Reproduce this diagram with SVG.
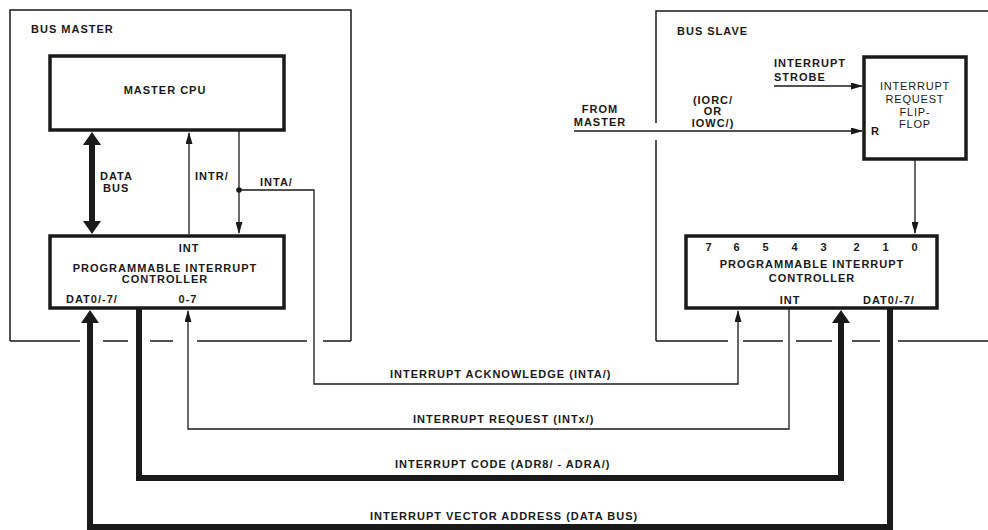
<svg xmlns="http://www.w3.org/2000/svg" width="988" height="530" viewBox="0 0 988 530">
<style>
text{font-family:"Liberation Sans",Arial,sans-serif;font-size:11px;font-weight:bold;letter-spacing:1px;fill:#1a1a1a}
.m{text-anchor:middle}
.lt{font-weight:normal;letter-spacing:0.8px}
.box{fill:none;stroke:#1a1a1a;stroke-width:3.5}
.frame{fill:none;stroke:#1a1a1a;stroke-width:1.5}
.thin{fill:none;stroke:#1a1a1a;stroke-width:1.3}
.thick{fill:none;stroke:#1a1a1a;stroke-width:6}
</style>
<defs>
<marker id="a" markerUnits="userSpaceOnUse" markerWidth="12" markerHeight="7" refX="11" refY="3.5" orient="auto"><path d="M0,0 L12,3.5 L0,7 z" fill="#1a1a1a"/></marker>
<marker id="b" markerUnits="userSpaceOnUse" markerWidth="13" markerHeight="18" refX="0" refY="9" orient="auto-start-reverse"><path d="M0,0 L13,9 L0,18 z" fill="#1a1a1a"/></marker>
</defs>
<rect width="988" height="530" fill="#fff"/>
<g id="bus-master">
<path class="frame" d="M10,341 V10 H351 V341"/>
<path class="frame" d="M10,341 H80 M103,341 H128 M150,341 H173 M197,341 H307 M323,341 H351"/>
<text x="31" y="33">BUS MASTER</text>
</g>
<g id="bus-slave">
<path class="frame" d="M656,123 V11 H988 M656,140 V341"/>
<path class="frame" d="M656,341 H728 M743,341 H783 M796,341 H832 M852,341 H880 M898,341 H988"/>
<text x="677" y="35">BUS SLAVE</text>
</g>
<g id="master-cpu">
<rect class="box" x="50" y="56" width="234" height="74"/>
<text class="m" x="165" y="94">MASTER CPU</text>
</g>
<g id="master-pic">
<rect class="box" x="50" y="236" width="234" height="72"/>
<text class="m" x="189" y="252">INT</text>
<text class="m" x="165" y="272">PROGRAMMABLE INTERRUPT</text>
<text class="m" x="165" y="283">CONTROLLER</text>
<text x="66" y="303">DAT0/-7/</text>
<text class="m" x="188" y="303">0-7</text>
</g>
<g id="flip-flop">
<rect class="box" x="864" y="57" width="102" height="102"/>
<text class="m lt" x="915" y="90">INTERRUPT</text>
<text class="m lt" x="915" y="103">REQUEST</text>
<text class="m lt" x="915" y="116">FLIP-</text>
<text class="m lt" x="915" y="128">FLOP</text>
<text x="871" y="135">R</text>
</g>
<g id="slave-pic">
<rect class="box" x="686" y="236" width="251" height="72"/>
<text class="m" x="709" y="251">7</text>
<text class="m" x="737" y="251">6</text>
<text class="m" x="766" y="251">5</text>
<text class="m" x="795" y="251">4</text>
<text class="m" x="824" y="251">3</text>
<text class="m" x="857" y="251">2</text>
<text class="m" x="886" y="251">1</text>
<text class="m" x="915" y="251">0</text>
<text class="m" x="812" y="268">PROGRAMMABLE INTERRUPT</text>
<text class="m" x="812" y="282">CONTROLLER</text>
<text class="m" x="790" y="304">INT</text>
<text x="863" y="304">DAT0/-7/</text>
</g>
<g id="connectors">
<path class="thick" d="M92,145 V221" marker-start="url(#b)" marker-end="url(#b)"/>
<path class="thin" d="M189,234 V133" marker-end="url(#a)"/>
<path class="thin" d="M239,130 V233" marker-end="url(#a)"/>
<circle cx="239" cy="190" r="2.8" fill="#1a1a1a"/>
<path class="thin" d="M239,190 H314 V384 H738 V311" marker-end="url(#a)"/>
<path class="thin" d="M789,308 V429 H188 V311" marker-end="url(#a)"/>
<path class="thick" d="M139,308 V478 H841 V323" marker-end="url(#b)"/>
<path class="thick" d="M890,308 V527 H90 V323" marker-end="url(#b)"/>
<path class="thin" d="M915,159 V233" marker-end="url(#a)"/>
<path class="thin" d="M774,86 H862" marker-end="url(#a)"/>
<path class="thin" d="M574,131 H862" marker-end="url(#a)"/>
</g>
<g id="labels">
<text x="100" y="180">DATA</text>
<text x="103" y="192">BUS</text>
<text x="195" y="180">INTR/</text>
<text x="260" y="186">INTA/</text>
<text x="774" y="67">INTERRUPT</text>
<text x="774" y="81">STROBE</text>
<text class="m" x="600" y="113">FROM</text>
<text class="m" x="600" y="126">MASTER</text>
<text class="m" x="713" y="104">(IORC/</text>
<text class="m" x="713" y="115">OR</text>
<text class="m" x="713" y="127">IOWC/)</text>
<text x="390" y="378">INTERRUPT ACKNOWLEDGE (INTA/)</text>
<text x="413" y="423">INTERRUPT REQUEST (INTx/)</text>
<text x="395" y="468">INTERRUPT CODE (ADR8/ - ADRA/)</text>
<text x="370" y="520">INTERRUPT VECTOR ADDRESS (DATA BUS)</text>
</g>
</svg>
